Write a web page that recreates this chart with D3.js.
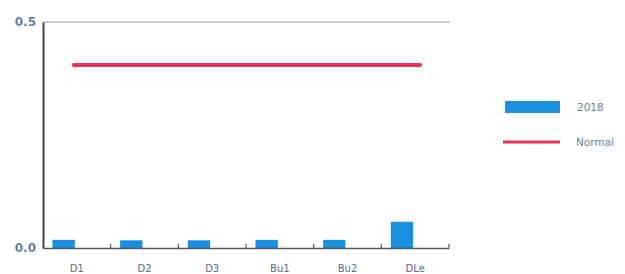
<!DOCTYPE html>
<html><head><meta charset="utf-8">
<script src="https://cdn.jsdelivr.net/npm/d3@7"></script>
<style>body{margin:0;background:#fff}svg{display:block}</style>
</head><body>
<svg id="c" width="625" height="274"></svg>
<script>
const categories = ["D1","D2","D3","Bu1","Bu2","DLe"];
const values2018 = [0.018, 0.017, 0.017, 0.018, 0.018, 0.058];
const normalValues = [0.405, 0.405, 0.405, 0.405, 0.405, 0.405];
const yTicks = [0.0, 0.5];
const seriesNames = ["2018", "Normal"];

(function(){
const svg = d3.select("#c");
const mLeft = 43, mRight = 449, mTop = 22, mBottom = 248;
const x = d3.scaleBand().domain(categories).range([mLeft, mRight]).padding(0);
const y = d3.scaleLinear().domain([0, 0.5]).range([mBottom, mTop]);
const blue = "#1a90e0", red = "#e8315c";

// top frame line
svg.append("line").attr("x1", mLeft).attr("x2", mRight+1).attr("y1", mTop).attr("y2", mTop)
  .attr("stroke", "#9a9a9a").attr("stroke-width", 1.2);

// bars
svg.selectAll("rect.bar").data(categories).enter().append("rect")
  .attr("x", d => x(d) + x.bandwidth()*0.14)
  .attr("width", x.bandwidth()*0.33)
  .attr("y", (d,i) => y(values2018[i]))
  .attr("height", (d,i) => y(0) - y(values2018[i]))
  .attr("fill", blue);

// normal line
const line = d3.line().x((d,i) => x(categories[i]) + x.bandwidth()/2 + (i === 0 ? -3 : i === categories.length-1 ? 5 : 0)).y(d => y(d));
svg.append("path").datum(normalValues).attr("d", line)
  .attr("fill", "none").attr("stroke", red).attr("stroke-width", 4).attr("stroke-linecap", "round");

// y axis
const yAxis = d3.axisLeft(y).tickValues(yTicks).tickFormat(d3.format(".1f")).tickSize(0).tickPadding(7);
const ya = svg.append("g").attr("transform", `translate(${mLeft},0)`).call(yAxis);
ya.select(".domain").attr("stroke", "#444").attr("stroke-width", 2);
ya.selectAll("text").attr("fill", "#6580a8").attr("font-family", "DejaVu Sans, sans-serif")
  .attr("font-size", 12).attr("font-weight", "bold");

// x axis
const xAxis = d3.axisBottom(x).tickSize(0).tickPadding(17);
const xa = svg.append("g").attr("transform", `translate(0,${mBottom})`).call(xAxis);
xa.select(".domain").attr("stroke", "#555").attr("stroke-width", 1.3);
xa.selectAll("text").attr("fill", "#5b6d8c").attr("font-family", "DejaVu Sans, sans-serif")
  .attr("font-size", 10);
// separator ticks
const sepTicks = categories.slice(1).map(c => x(c)).concat([mRight]);
svg.selectAll("line.sep").data(sepTicks).enter().append("line")
  .attr("x1", d => d).attr("x2", d => d).attr("y1", mBottom - 4).attr("y2", mBottom)
  .attr("stroke", "#555").attr("stroke-width", 1.2);

// legend
const lg = svg.append("g");
lg.append("rect").attr("x", 505).attr("y", 101).attr("width", 55).attr("height", 12).attr("fill", blue);
lg.append("text").attr("x", 577).attr("y", 111).text(seriesNames[0])
  .attr("fill", "#6a7e9c").attr("font-family", "DejaVu Sans, sans-serif").attr("font-size", 10.5);
lg.append("line").attr("x1", 503).attr("x2", 560).attr("y1", 142).attr("y2", 142)
  .attr("stroke", red).attr("stroke-width", 3);
lg.append("text").attr("x", 576).attr("y", 146).text(seriesNames[1])
  .attr("fill", "#6a7e9c").attr("font-family", "DejaVu Sans, sans-serif").attr("font-size", 10.5);
})();
</script>
</body></html>
